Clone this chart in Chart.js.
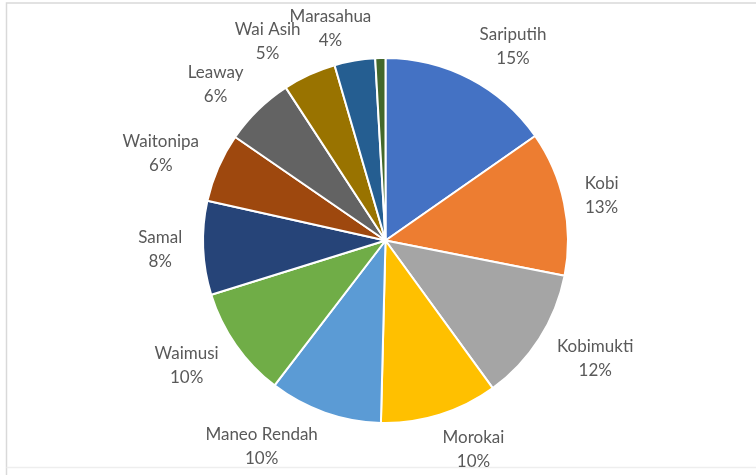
<!DOCTYPE html>
<html>
<head>
<meta charset="utf-8">
<script src="https://cdn.jsdelivr.net/npm/chart.js@4/dist/chart.umd.min.js"></script>
<style>
  html, body { margin: 0; padding: 0; background: #ffffff; }
  #wrap { width: 756px; height: 475px; position: relative; }
</style>
</head>
<body>
<div id="wrap"><canvas id="c" width="756" height="475"></canvas></div>
<script>
const categories = ["Sariputih", "Kobi", "Kobimukti", "Morokai", "Maneo Rendah", "Waimusi",
                    "Samal", "Waitonipa", "Leaway", "Wai Asih", "Marasahua", ""];
const shares = [15.3, 12.8, 11.9, 10.4, 10.0, 9.8, 8.3, 6.1, 6.2, 4.7, 3.6, 0.9];
const percentLabels = ["15%", "13%", "12%", "10%", "10%", "10%", "8%", "6%", "6%", "5%", "4%", ""];
const sliceColors = ["#4472C4", "#ED7D31", "#A5A5A5", "#FFC000", "#5B9BD5", "#70AD47",
                     "#264478", "#9E480E", "#636363", "#997300", "#255E91", "#43682B"];

const FONT_SIZE = 17;
const FONT = FONT_SIZE + "px Lato, 'Open Sans', sans-serif";

const outsideLabels = {
  id: 'outsideLabels',
  afterDatasetsDraw(chart) {
    const ctx = chart.ctx;
    const meta = chart.getDatasetMeta(0);
    ctx.save();
    ctx.font = FONT;
    ctx.fillStyle = '#595959';
    ctx.textAlign = 'center';
    ctx.textBaseline = 'middle';
    const lineGap = 24;
    meta.data.forEach((arc, i) => {
      const name = categories[i];
      const pct = percentLabels[i];
      if (!name) return;
      const p = arc.getProps(['x', 'y', 'startAngle', 'endAngle', 'outerRadius'], true);
      const mid = (p.startAngle + p.endAngle) / 2;
      const dx = Math.cos(mid), dy = Math.sin(mid);
      const d = p.outerRadius + 21;
      const w = Math.max(ctx.measureText(name).width, ctx.measureText(pct).width);
      const h = 30;
      const shift = Math.max(-1, Math.min(1, dx * 3));
      const cx = p.x + dx * d + shift * w / 2;
      let cy = p.y + dy * d + dy * h / 2;
      const minCy = 8 + FONT_SIZE / 2 + lineGap / 2;
      if (cy < minCy) cy = minCy;
      ctx.fillText(name, cx, cy - lineGap / 2);
      ctx.fillText(pct, cx, cy + lineGap / 2);
    });
    ctx.restore();
  }
};

const frame = {
  id: 'frame',
  beforeDraw(chart) {
    const ctx = chart.ctx;
    ctx.save();
    ctx.fillStyle = '#ffffff';
    ctx.fillRect(0, 0, chart.width, chart.height);
    ctx.strokeStyle = '#d9d9d9';
    ctx.lineWidth = 1.5;
    ctx.beginPath();
    ctx.moveTo(6.5, 475);
    ctx.lineTo(6.5, 3);
    ctx.lineTo(756, 3);
    ctx.stroke();
    ctx.strokeStyle = '#eeeeee';
    ctx.beginPath();
    ctx.moveTo(6.5, 467.5);
    ctx.lineTo(756, 467.5);
    ctx.stroke();
    ctx.restore();
  }
};

new Chart(document.getElementById('c'), {
  type: 'pie',
  data: {
    labels: categories,
    datasets: [{
      data: shares,
      backgroundColor: sliceColors,
      borderColor: '#ffffff',
      borderWidth: 2
    }]
  },
  options: {
    responsive: false,
    animation: false,
    rotation: 0,
    layout: { padding: { left: 202, right: 187, top: 57, bottom: 51 } },
    plugins: {
      legend: { display: false },
      tooltip: { enabled: false },
      title: { display: false }
    }
  },
  plugins: [frame, outsideLabels]
});
</script>
</body>
</html>
